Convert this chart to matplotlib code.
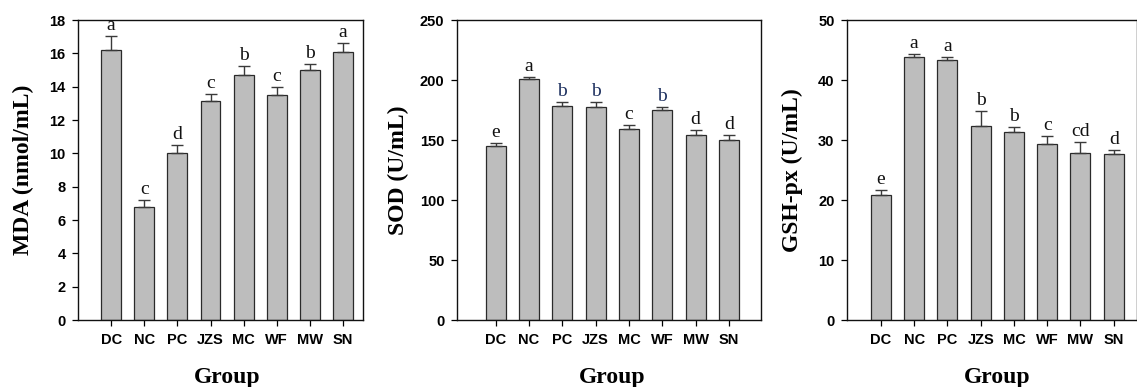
import matplotlib
matplotlib.use("Agg")
import matplotlib.pyplot as plt

groups = ["DC", "NC", "PC", "JZS", "MC", "WF", "MW", "SN"]

mda_mean = [16.2, 6.78, 10.0, 13.16, 14.68, 13.52, 15.0, 16.06]
mda_err = [0.84, 0.42, 0.48, 0.42, 0.58, 0.44, 0.36, 0.54]
mda_letters = ["a", "c", "d", "c", "b", "c", "b", "a"]

sod_mean = [145.0, 200.8, 178.3, 177.2, 158.9, 174.7, 153.9, 150.0]
sod_err = [2.8, 2.0, 3.1, 4.2, 3.3, 3.1, 4.1, 4.4]
sod_letters = ["e", "a", "b", "b", "c", "b", "d", "d"]
sod_letter_colors = ["#111111", "#111111", "#1c2f5e", "#1c2f5e", "#111111", "#1c2f5e", "#111111", "#111111"]

gsh_mean = [20.8, 43.8, 43.3, 32.3, 31.3, 29.3, 27.8, 27.6]
gsh_err = [0.8, 0.6, 0.5, 2.5, 0.8, 1.3, 1.8, 0.7]
gsh_letters = ["e", "a", "a", "b", "b", "c", "cd", "d"]

W, H = 1137, 387
fig = plt.figure(figsize=(W / 100, H / 100), dpi=100)

panels = [
    dict(mean=mda_mean, err=mda_err, letters=mda_letters, colors=None,
         ylabel="MDA (nmol/mL)", ylim=(0, 18), yticks=range(0, 19, 2),
         left=78, right=363, xlim=(-1.0, 7.6), ylab_x=23),
    dict(mean=sod_mean, err=sod_err, letters=sod_letters, colors=sod_letter_colors,
         ylabel="SOD (U/mL)", ylim=(0, 250), yticks=range(0, 251, 50),
         left=457, right=761, xlim=(-1.16, 7.96), ylab_x=398),
    dict(mean=gsh_mean, err=gsh_err, letters=gsh_letters, colors=None,
         ylabel="GSH-px (U/mL)", ylim=(0, 50), yticks=range(0, 51, 10),
         left=847, right=1137, xlim=(-1.02, 7.7), ylab_x=792),
]

top_px, bot_px = 20, 320
serif = ["Liberation Serif", "DejaVu Serif"]
sans = ["Liberation Sans", "DejaVu Sans"]

for p in panels:
    ax = fig.add_axes([p["left"] / W, (H - bot_px) / H,
                       (p["right"] - p["left"]) / W, (bot_px - top_px) / H])
    x = list(range(len(groups)))
    ax.bar(x, p["mean"], width=0.6, color="#bdbdbd", edgecolor="#2a2a2a",
           linewidth=0.9, zorder=2)
    ax.errorbar(x, p["mean"], yerr=[[0] * len(x), p["err"]], fmt="none",
                ecolor="#3a3a3a", elinewidth=1.0, capsize=4, capthick=1.0, zorder=3)
    for i, (m, e, lt) in enumerate(zip(p["mean"], p["err"], p["letters"])):
        col = p["colors"][i] if p["colors"] else "#111111"
        ax.annotate(lt, (i, m + e), xytext=(0, 1.5), textcoords="offset points",
                    ha="center", va="bottom", fontsize=14, family=serif, color=col)
    ax.set_xlim(*p["xlim"])
    ax.set_ylim(*p["ylim"])
    ax.set_yticks(list(p["yticks"]))
    ax.set_xticks(x)
    ax.set_xticklabels(groups)
    ax.tick_params(direction="out", length=4, width=0.9, labelsize=10.5, pad=5)
    for lbl in ax.get_xticklabels() + ax.get_yticklabels():
        lbl.set_fontfamily(sans)
        lbl.set_fontweight("bold")
    for s in ax.spines.values():
        s.set_linewidth(1.0)
        s.set_color("#111111")
    ax.text(3.5, -0.19, "Group", transform=ax.get_xaxis_transform(),
            ha="center", va="center", fontsize=17, fontweight="bold", family=serif)
    fig.text(p["ylab_x"] / W, (H - 170) / H, p["ylabel"], rotation=90,
             ha="center", va="center", fontsize=17, fontweight="bold", family=serif)

fig.savefig("out.png", dpi=100, facecolor="white")
